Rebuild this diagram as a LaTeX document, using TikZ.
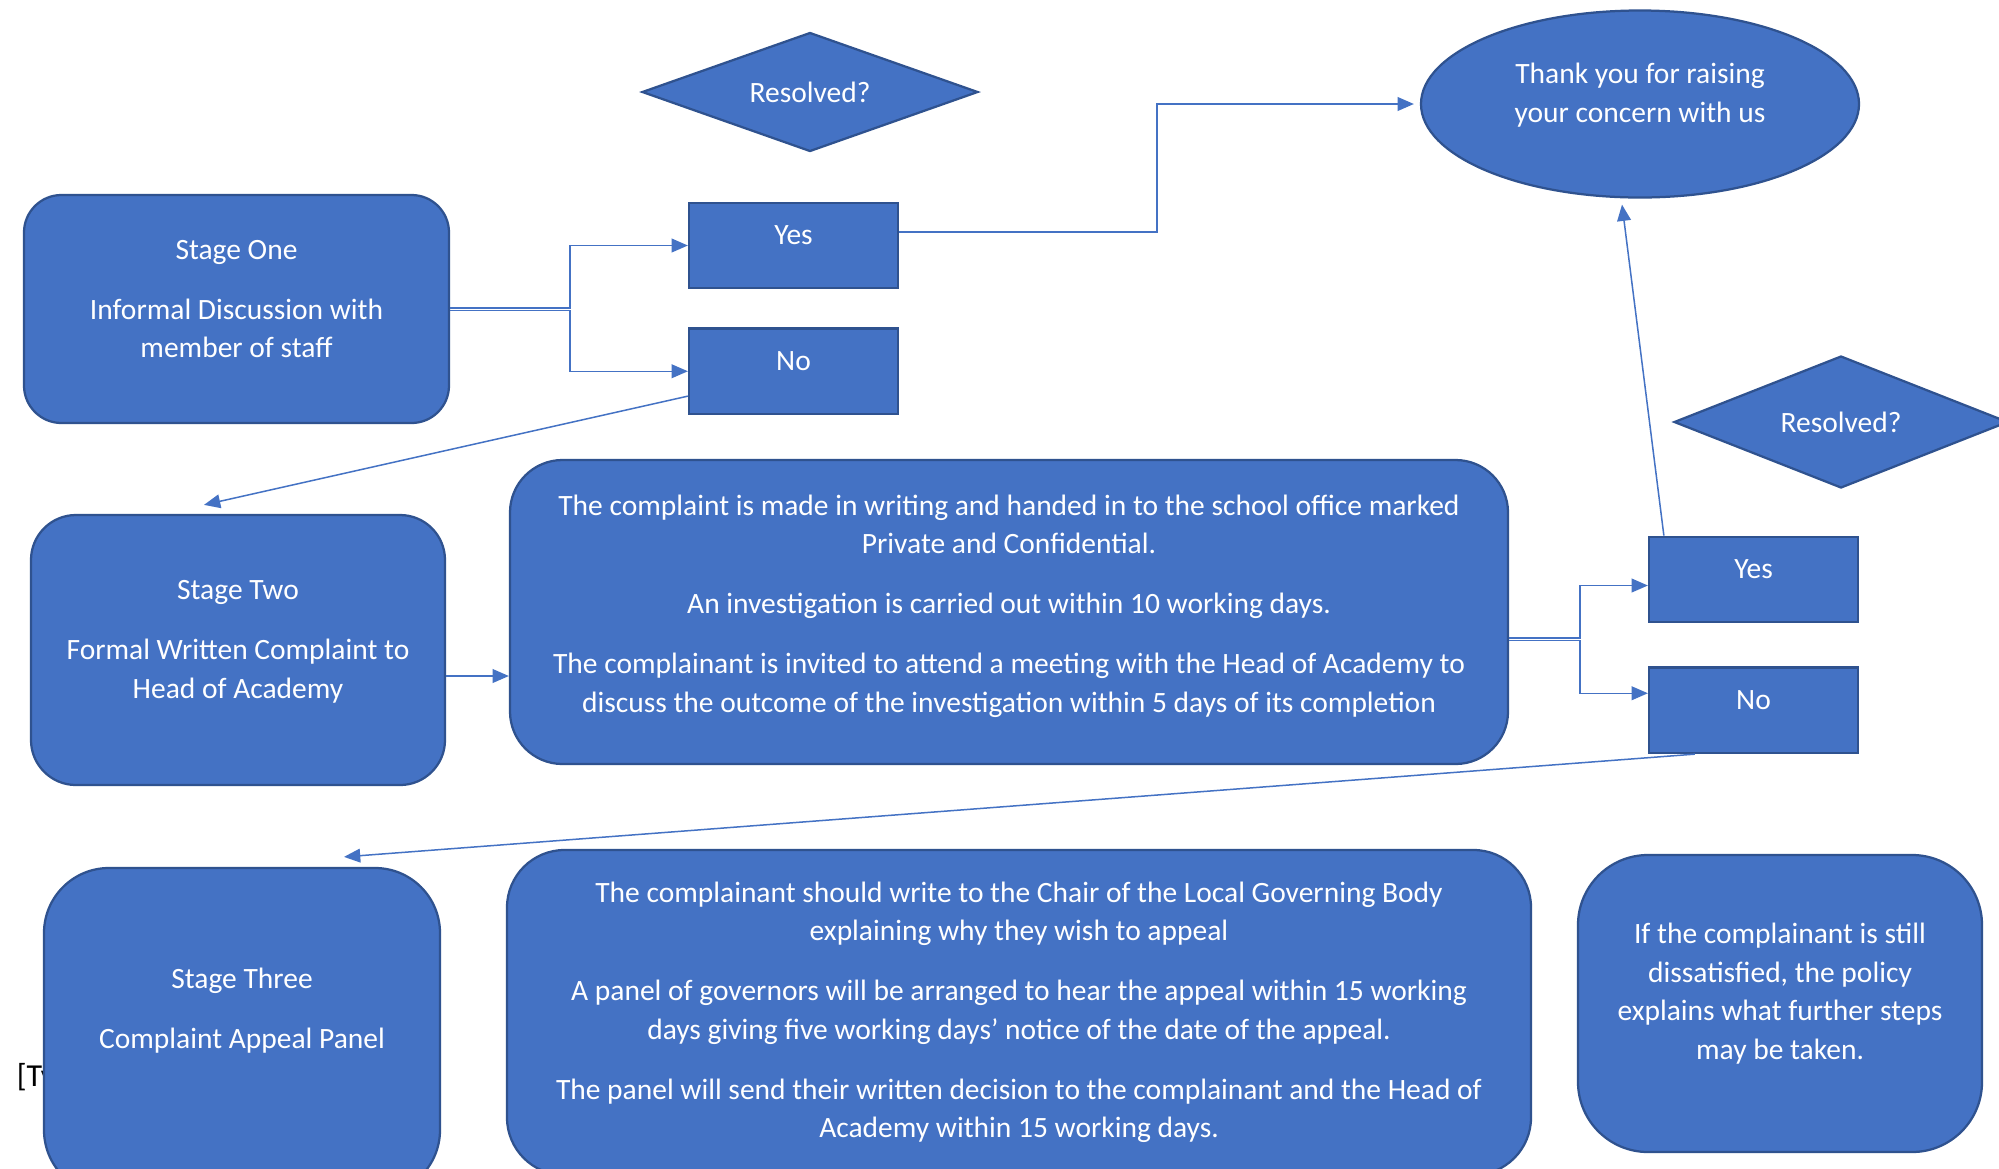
\documentclass[tikz,border=0pt]{standalone}
\usepackage{fontspec}
\setmainfont{Carlito}
\usetikzlibrary{shapes.geometric,arrows.meta,positioning}
\definecolor{boxblue}{HTML}{4472C4}
\definecolor{edgeblue}{HTML}{2F528F}
\newcommand\padbelow[1][9pt]{\rule[-#1]{0pt}{#1}}

\begin{document}
\begin{tikzpicture}[x=0.4pt, y=-0.4pt,
  box/.style={draw=edgeblue, fill=boxblue, line width=0.9pt, text=white, align=center, font=\fontsize{11.8}{15.4}\selectfont},
  stagebox/.style={box, rounded corners=#1},
  answer/.style={box, minimum width=83.6pt, minimum height=34.2pt, inner sep=0pt},
  decision/.style={box, diamond, inner sep=0pt},
  flow/.style={draw=boxblue, line width=0.6pt, -{Triangle[length=6.5pt, width=5.5pt]}}]
\fill[white] (0,0) rectangle (1999,1168);
\useasboundingbox (0,0) rectangle (1999,1168);
\clip (0,0) rectangle (1999,1168);
\node[decision, aspect=2.82, minimum width=134.4pt, minimum height=47.6pt] (resolved1) at (810,92) {Resolved?};
\node[box, ellipse, minimum width=175.2pt, minimum height=74.8pt] (thanks) at (1640,104) {Thank you for raising\\ your concern with us\padbelow};
\node[stagebox=15pt, minimum width=170pt, minimum height=91.2pt] (stageone) at (236.5,309) {Stage One\\[8.6pt] Informal Discussion with\\ member of staff\padbelow[8pt]};
\node[answer] (yes1) at (793.5,245.5) {Yes\padbelow[8pt]};
\node[answer, below=15.2pt of yes1] (no1) {No\padbelow[8pt]};
\node[stagebox=18pt, minimum width=165.6pt, minimum height=108pt] (stagetwo) at (238,650) {Stage Two\\[8.6pt] Formal Written Complaint to\\ Head of Academy\padbelow[8.5pt]};
\node[stagebox=21pt, minimum width=399.2pt, minimum height=121.6pt] (process) at (1009,612) {The complaint is made in writing and handed in to the school office marked\\ Private and Confidential.\\[8.6pt] An investigation is carried out within 10 working days.\\[8.6pt] The complainant is invited to attend a meeting with the Head of Academy to\\ discuss the outcome of the investigation within 5 days of its completion\padbelow[7pt]};
\node[decision, aspect=2.53, minimum width=133.6pt, minimum height=52.8pt] (resolved2) at (1841,422) {Resolved?};
\node[answer] (yes2) at (1753.5,579.5) {Yes\padbelow[8pt]};
\node[answer, below=17.2pt of yes2] (no2) {No\padbelow[8pt]};
\node[anchor=west, font=\fontsize{12.8}{15}\selectfont] (typetext) at (8,1077) {{[}Ty};
\node[stagebox=26pt, minimum width=158.4pt, minimum height=130.8pt] (stagethree) at (242,1031.5) {Stage Three\\[8.6pt] Complaint Appeal Panel\padbelow[19pt]};
\node[stagebox=23pt, minimum width=409.6pt, minimum height=130pt] (appeal) at (1019,1012.5) {The complainant should write to the Chair of the Local Governing Body\\ explaining why they wish to appeal\\[8.6pt] A panel of governors will be arranged to hear the appeal within 15 working\\ days giving five working days’ notice of the date of the appeal.\\[8.6pt] The panel will send their written decision to the complainant and the Head of\\ Academy within 15 working days.};
\node[stagebox=28pt, minimum width=161.6pt, minimum height=118.8pt] (further) at (1780,1003.5) {If the complainant is still\\ dissatisfied, the policy\\ explains what further steps\\ may be taken.\padbelow[10pt]};
\coordinate (split1) at (570,0);
\coordinate (out1a) at ([yshift=0.5pt]stageone.east);
\coordinate (out1b) at ([yshift=-0.5pt]stageone.east);
\draw[flow] (out1a) -- (out1a -| split1) |- (yes1.west);
\draw[flow] (out1b) -- (out1b -| split1) |- (no1.west);
\draw[flow] ([yshift=5.4pt]yes1.east) -| ([xshift=-105.2pt]thanks.west) -- ([xshift=-2.4pt]thanks.west);
\draw[flow] ([yshift=7.6pt]no1.south west) -- ([xshift=-13.6pt, yshift=3.6pt]stagetwo.north);
\coordinate (out2) at ([yshift=-10.4pt]stagetwo.east);
\draw[flow] (out2) -- (out2 -| process.west);
\coordinate (split2) at (1580,0);
\coordinate (out3a) at ([yshift=-10.3pt]process.east);
\coordinate (out3b) at ([yshift=-11.3pt]process.east);
\draw[flow] (out3a) -- (out3a -| split2) |- ([yshift=-2.4pt]yes2.west);
\draw[flow] (out3b) -- (out3b -| split2) |- ([yshift=6.8pt]no2.west);
\draw[flow] ([xshift=6.4pt]yes2.north west) -- ([xshift=-7.2pt, yshift=-2.4pt]thanks.south);
\draw[flow] ([xshift=18.8pt]no2.south west) -- ([xshift=40.8pt, yshift=4pt]stagethree.north);
\end{tikzpicture}
\end{document}
